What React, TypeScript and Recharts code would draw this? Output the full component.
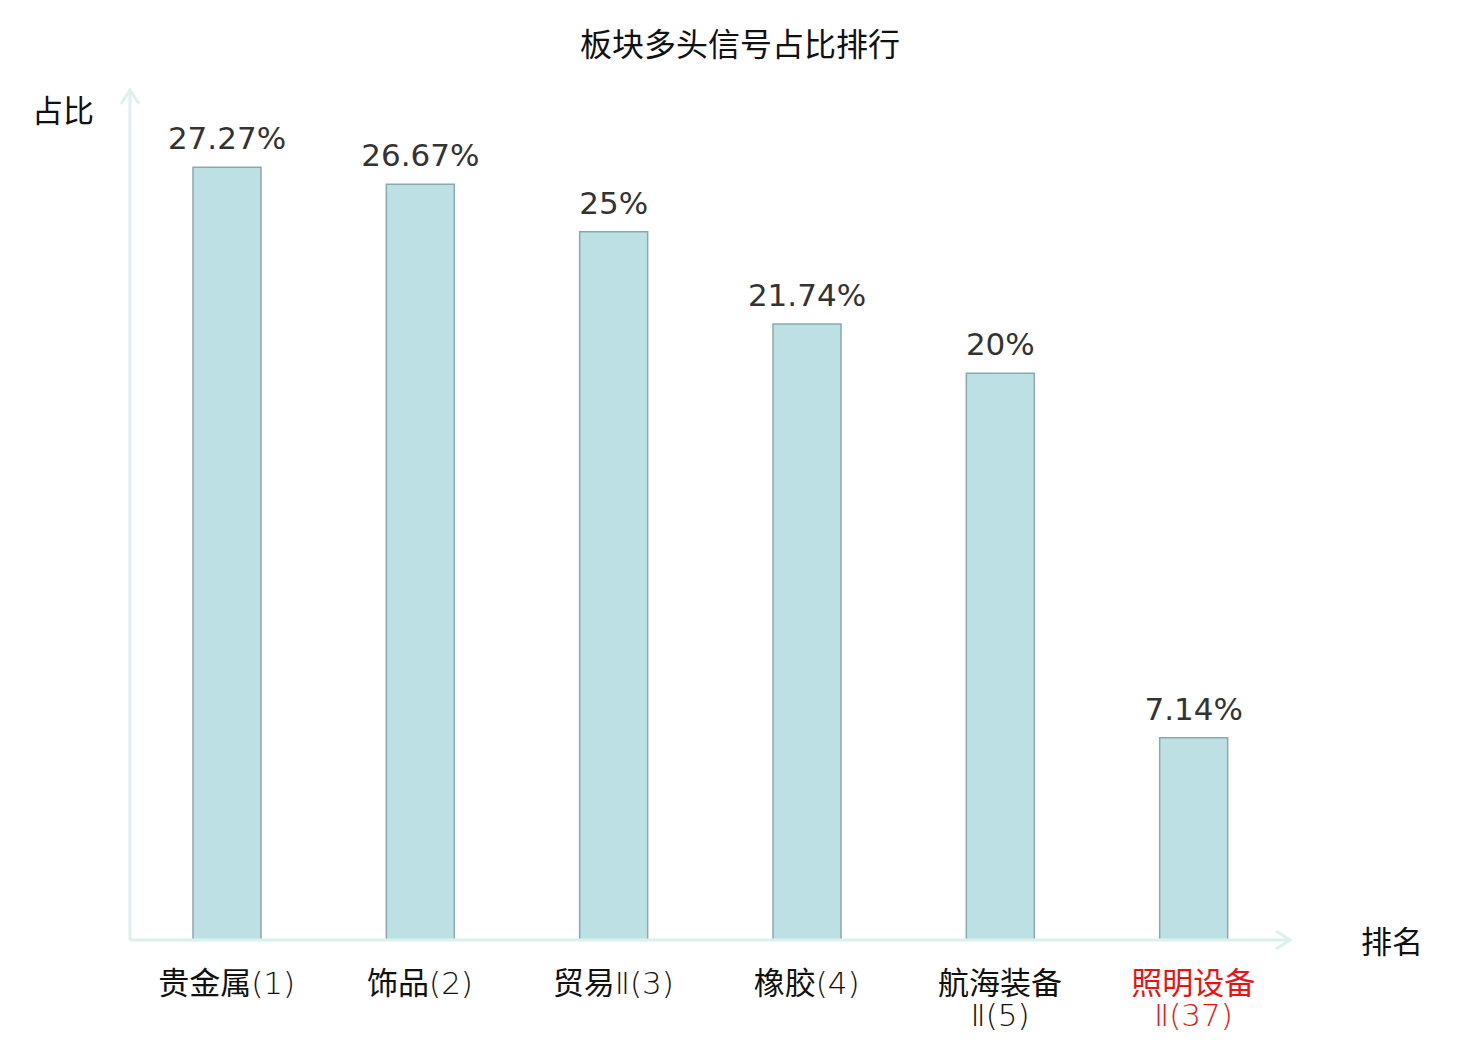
import React from 'react';
import { BarChart, Bar, XAxis, YAxis, LabelList } from 'recharts';

const sectorNames = ['贵金属', '饰品', '贸易Ⅱ', '橡胶', '航海装备Ⅱ', '照明设备Ⅱ'];
const sectorRanks = [1, 2, 3, 4, 5, 37];
const bullishShare = [27.27, 26.67, 25, 21.74, 20, 7.14];
const highlighted = ['照明设备Ⅱ'];
const yDomain = [0, 30];

const data = sectorNames.map((n, i) => ({
  name: `${n}(${sectorRanks[i]})`,
  base: n,
  value: bullishShare[i],
}));

const CJK = '"Noto Sans CJK SC", "Noto Sans", sans-serif';
const NUM = '"DejaVu Sans", "Noto Sans CJK SC", sans-serif';
const LATIN_THIN = '"DejaVu Sans", sans-serif';

const fmt = (v: number) => `${v}%`;

const splitRuns = (s: string) => {
  const runs: { t: string; cjk: boolean }[] = [];
  for (const ch of s) {
    const cjk = /[\u4e00-\u9fff]/.test(ch);
    const last = runs[runs.length - 1];
    if (last && last.cjk === cjk) last.t += ch;
    else runs.push({ t: ch, cjk });
  }
  return runs;
};

const CategoryTick = (props: any) => {
  const { x, y, payload, index } = props;
  const label: string = payload.value;
  const lines = label.length > 7 ? [label.slice(0, 4), label.slice(4)] : [label];
  const isHi = highlighted.includes(sectorNames[index]);
  return (
    <g>
      {lines.map((l, i) => (
        <text
          key={i}
          x={x}
          y={y + 54 + i * 32}
          textAnchor="middle"
          fontSize={31}
          fill={isHi ? '#ee1111' : '#111'}
        >
          {splitRuns(l).map((r, k) => (
            <tspan
              key={k}
              fontFamily={r.cjk ? CJK : LATIN_THIN}
              fontWeight={r.cjk ? 400 : 200}
            >
              {r.t}
            </tspan>
          ))}
        </text>
      ))}
    </g>
  );
};

export default function App() {
  const axisColor = '#dcf1ee';
  return (
    <div style={{ position: 'absolute', left: 0, top: 0, width: 1480, height: 1040, background: '#fff' }}>
      <svg width={0} height={0} style={{ position: 'absolute' }}>
        <defs>
          <marker
            id="axisArrow"
            markerUnits="userSpaceOnUse"
            markerWidth={24}
            markerHeight={24}
            refX={15}
            refY={10}
            orient="auto-start-reverse"
            viewBox="0 0 24 20"
          >
            <path d="M1,1 L15,10 L1,19" fill="none" stroke={axisColor} strokeWidth={3} />
          </marker>
        </defs>
      </svg>
      <div
        style={{
          position: 'absolute',
          left: 0,
          width: 1480,
          top: 20,
          textAlign: 'center',
          fontFamily: CJK,
          fontSize: 32,
          lineHeight: '44px',
          color: '#111',
        }}
      >
        板块多头信号占比排行
      </div>
      <div
        style={{
          position: 'absolute',
          left: 32,
          top: 88,
          fontFamily: CJK,
          fontSize: 31,
          lineHeight: '42px',
          color: '#111',
        }}
      >
        占比
      </div>
      <div
        style={{
          position: 'absolute',
          left: 1361,
          top: 919,
          fontFamily: CJK,
          fontSize: 31,
          lineHeight: '42px',
          color: '#111',
        }}
      >
        排名
      </div>
      <div style={{ position: 'absolute', left: 0, top: 0 }}>
        <BarChart
          width={1480}
          height={1040}
          data={data}
          margin={{ top: 90, right: 190, bottom: 0, left: 120 }}
          barCategoryGap={0}
        >
          <XAxis
            dataKey="name"
            height={100}
            tickLine={false}
            tickSize={0}
            tickMargin={0}
            interval={0}
            tick={<CategoryTick />}
            axisLine={{ stroke: axisColor, strokeWidth: 3, markerEnd: 'url(#axisArrow)' } as any}
          />
          <YAxis
            width={10}
            domain={yDomain}
            tick={false}
            tickLine={false}
            axisLine={{ stroke: axisColor, strokeWidth: 3, markerStart: 'url(#axisArrow)' } as any}
          />
          <Bar
            dataKey="value"
            barSize={68}
            fill="#bce0e3"
            stroke="#8ba9aa"
            strokeWidth={1.5}
            isAnimationActive={false}
          >
            <LabelList
              dataKey="value"
              position="top"
              offset={18}
              formatter={fmt as any}
              style={{ fontFamily: NUM, fontSize: 31, fill: '#333' }}
            />
          </Bar>
        </BarChart>
      </div>
    </div>
  );
}
